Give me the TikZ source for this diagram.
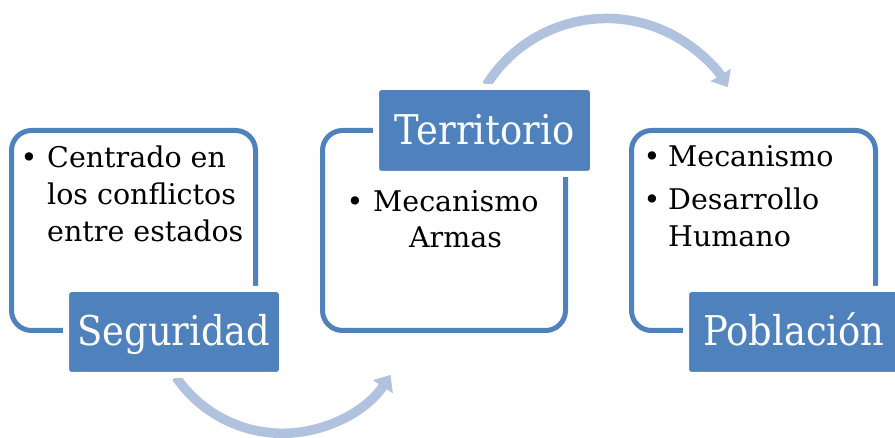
\documentclass[tikz,border=0pt]{standalone}
\usepackage{fontspec}
\setmainfont{DejaVu Serif}
\newfontfamily\lblfont[FakeStretch=0.9]{DejaVu Serif}
\usetikzlibrary{arrows.meta}
\definecolor{accent}{HTML}{4F81BD}
\definecolor{flow}{HTML}{B0C2DE}
\begin{document}
\begin{tikzpicture}[x=1pt,y=1pt,
  frame/.style={draw=accent, line width=5pt, rounded corners=20pt, inner sep=0pt},
  tag/.style={fill=accent, draw=white, line width=6pt, rounded corners=5pt, text=white,
    font=\lblfont\fontsize{41}{41}\selectfont, inner sep=0pt, text height=32pt, text depth=4pt},
  item/.style={anchor=base west, inner sep=0pt, font=\fontsize{28.5}{37}\selectfont},
  itemc/.style={anchor=base, inner sep=0pt, font=\fontsize{28.5}{37}\selectfont},
  flowarrow/.style={draw=flow, line width=9.5pt, -{Triangle[width=23pt,length=14pt]}}
]
\useasboundingbox (0,0) rectangle (895,-438);
\clip (0,0) rectangle (895,-438);
\fill[white] (0,0) rectangle (895,-438);

% arrows
\coordinate (a1s) at (486.5,-85);
\draw[flowarrow] (a1s) arc[start angle=148, end angle=31, radius=141.5];
\coordinate (a2s) at (176,-377);
\draw[flowarrow] (a2s) arc[start angle=214.3, end angle=326.8, radius=129];

% frames
\node[frame, minimum width=244pt, minimum height=200pt] (f1) at (133.5,-230.5) {};
\node[frame, minimum width=243pt, minimum height=200pt] (f2) at (444,-230.5) {};
\node[frame, minimum width=244pt, minimum height=200pt] (f3) at (753.5,-230.5) {};

% tags
\node[tag, minimum width=216pt, minimum height=86pt] (t1) at (174,-332) {Seguridad};
\node[tag, minimum width=217pt, minimum height=87pt] (t2) at (484.5,-130.5) {Territorio};
\node[tag, minimum width=216pt, minimum height=86pt] (t3) at (794,-332) {Población};

% box 1 text
\node[itemc] (b1) at (29,-168) {•};
\node[item] (l11) at (47,-168) {Centrado en};
\node[item] (l12) at (47,-205) {los conflictos};
\node[item] (l13) at (47,-242) {entre estados};

% box 2 text
\node[itemc] (b2) at (355,-212) {•};
\node[item] (l21) at (373,-212) {Mecanismo};
\node[itemc] (l22) at (455.5,-248) {Armas};

% box 3 text
\node[itemc] (b31) at (652,-167) {•};
\node[item] (l31) at (668,-167) {Mecanismo};
\node[itemc] (b32) at (652,-210) {•};
\node[item] (l32) at (668,-210) {Desarrollo};
\node[item] (l33) at (668,-247) {Humano};
\end{tikzpicture}
\end{document}
